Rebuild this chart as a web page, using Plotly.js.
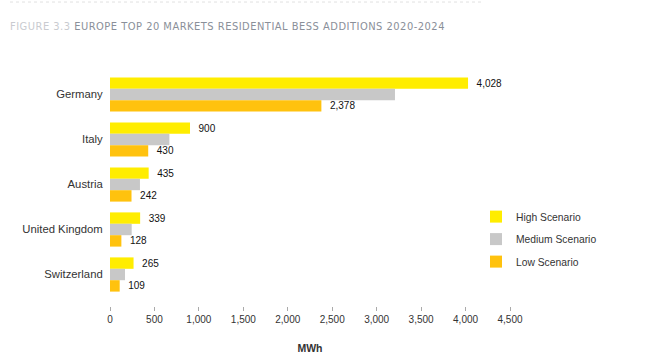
<!DOCTYPE html>
<html>
<head>
<meta charset="utf-8">
<script src="https://cdn.plot.ly/plotly-3.0.1.min.js"></script>
<style>html,body{margin:0;padding:0;background:#fff;}#chart{width:668px;height:356px;}</style>
</head>
<body>
<div id="chart"></div>
<script>
const countries = ["Germany", "Italy", "Austria", "United Kingdom", "Switzerland"];
const highScenario = [4028, 900, 435, 339, 265];
const mediumScenario = [3206, 668, 337, 244, 169];
const lowScenario = [2378, 430, 242, 128, 109];
const xTicks = [0, 500, 1000, 1500, 2000, 2500, 3000, 3500, 4000, 4500];
const xTickLabels = ["0", "500", "1,000", "1,500", "2,000", "2,500", "3,000", "3,500", "4,000", "4,500"];

const labelFont = {family: "Liberation Sans, Arial, sans-serif", size: 10, color: "#111"};

const traces = [
  {name: "High Scenario", legendgroup: "a", type: "bar", orientation: "h", y: countries, x: highScenario,
   marker: {color: "#FFED00"}, text: highScenario, texttemplate: "  %{x:,}", textposition: "outside",
   constraintext: "none", textfont: labelFont, cliponaxis: false, hoverinfo: "x+name"},
  {name: "Medium Scenario", legendgroup: "b", type: "bar", orientation: "h", y: countries, x: mediumScenario,
   marker: {color: "#C8C8C8"}, hoverinfo: "x+name"},
  {name: "Low Scenario", legendgroup: "c", type: "bar", orientation: "h", y: countries, x: lowScenario,
   marker: {color: "#FFC20E"}, text: lowScenario, texttemplate: "  %{x:,}", textposition: "outside",
   constraintext: "none", textfont: labelFont, cliponaxis: false, hoverinfo: "x+name"}
];

const layout = {
  width: 668, height: 356,
  margin: {l: 110, r: 158, t: 72, b: 50},
  paper_bgcolor: "#fff", plot_bgcolor: "#fff",
  barmode: "group", bargap: 0.24, bargroupgap: 0,
  font: {family: "Liberation Sans, Arial, sans-serif", color: "#333"},
  title: {
    text: "<span style='color:#c9cbd0;letter-spacing:0.5px'>FIGURE 3.3</span><span style='letter-spacing:0.5px'> EUROPE TOP 20 MARKETS RESIDENTIAL BESS ADDITIONS 2020-2024</span>",
    font: {family: "DejaVu Sans Condensed, DejaVu Sans, sans-serif", size: 11, color: "#8a8f99"},
    x: 10/668, xanchor: "left", xref: "container",
    y: 1 - 26/356, yanchor: "middle", yref: "container"
  },
  xaxis: {
    range: [0, 4500], tickvals: xTicks, ticktext: xTickLabels,
    showgrid: false, zeroline: false, showline: false,
    ticks: "outside", ticklen: 4, tickcolor: "#aaa", tickwidth: 1,
    tickfont: {size: 10, color: "#333"},
    title: {text: "<b>MWh</b>", font: {size: 10.5, color: "#333"}, standoff: 20},
    fixedrange: true
  },
  yaxis: {
    type: "category", range: [4.7, -0.5],
    showgrid: false, zeroline: false, showline: false, ticks: "",
    ticksuffix: "  ",
    tickfont: {size: 11.3, color: "#333"},
    fixedrange: true
  },
  legend: {
    x: 0.915, y: 0.444, xanchor: "left", yanchor: "top",
    font: {size: 10.3, color: "#333"},
    bgcolor: "rgba(0,0,0,0)", tracegroupgap: 3.5
  },
  shapes: [
    {type: "line", xref: "paper", yref: "paper", x0: -0.25, x1: 0.9325, y0: 1.299, y1: 1.299,
     line: {color: "#e2e2e2", width: 1, dash: "dot"}}
  ]
};

Plotly.newPlot("chart", traces, layout, {displayModeBar: false, staticPlot: true});
</script>
</body>
</html>
